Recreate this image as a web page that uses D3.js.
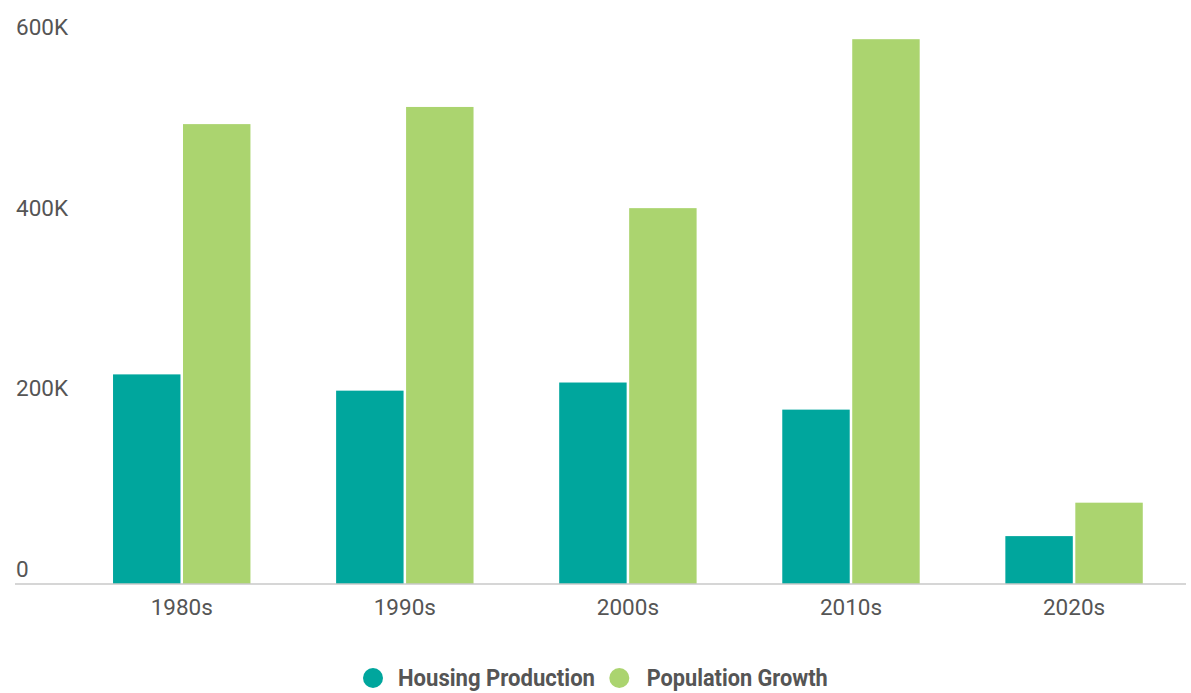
<!DOCTYPE html>
<html>
<head>
<meta charset="utf-8">
<script src="https://cdn.jsdelivr.net/npm/d3@7"></script>
<style>
  html, body { margin: 0; padding: 0; background: #fff; }
  svg { display: block; }
  text { font-family: Roboto, "Noto Sans", sans-serif; }
</style>
</head>
<body>
<svg id="chart" width="1191" height="693"></svg>
<script>
const categories = ["1980s", "1990s", "2000s", "2010s", "2020s"];
const seriesNames = ["Housing Production", "Population Growth"];
const housingProduction = [232000, 214000, 223000, 193000, 53000];
const populationGrowth = [509000, 528000, 416000, 603000, 90000];
const yTicks = [0, 200000, 400000, 600000];
const yTickLabels = ["0", "200K", "400K", "600K"];
const colors = ["#00a69d", "#abd46f"];

const svg = d3.select("#chart");
const baseY = 584;

const x = d3.scaleBand().domain(categories).range([70.2, 1185.6])
  .paddingInner(0.384).paddingOuter(0.192);
const xSub = d3.scaleBand().domain(seriesNames).range([0, x.bandwidth()]).paddingInner(0.036);
const y = d3.scaleLinear().domain([0, 600000]).range([baseY, baseY - 542.1]);

const data = categories.map((c, i) => ({
  cat: c,
  values: [
    { name: seriesNames[0], value: housingProduction[i] },
    { name: seriesNames[1], value: populationGrowth[i] }
  ]
}));
const color = d3.scaleOrdinal().domain(seriesNames).range(colors);

// y-axis labels (no gridlines)
const yAxis = d3.axisLeft(y).tickValues(yTicks).tickSize(0)
  .tickFormat((d, i) => yTickLabels[i]);
const gy = svg.append("g").call(yAxis);
gy.select(".domain").remove();
gy.selectAll("text")
  .attr("x", 16).attr("dy", null).attr("y", -7.5)
  .attr("text-anchor", "start")
  .style("font-size", "22.5px").style("fill", "#555")
  .style("font-family", "Roboto, sans-serif");

// bars
const groups = svg.append("g").selectAll("g").data(data).join("g")
  .attr("transform", d => `translate(${x(d.cat)},0)`);
groups.selectAll("rect").data(d => d.values).join("rect")
  .attr("x", d => xSub(d.name))
  .attr("width", xSub.bandwidth())
  .attr("y", d => y(d.value))
  .attr("height", d => y(0) - y(d.value))
  .attr("fill", d => color(d.name));

// baseline
svg.append("line")
  .attr("x1", 15).attr("x2", 1186)
  .attr("y1", baseY).attr("y2", baseY)
  .attr("stroke", "#c8c8c8").attr("stroke-width", 1.5);

// x axis labels
const xAxis = d3.axisBottom(x).tickSize(0);
const gx = svg.append("g").attr("transform", `translate(0,${baseY})`).call(xAxis);
gx.select(".domain").remove();
gx.selectAll("text")
  .attr("y", 30.5).attr("dy", null)
  .style("font-size", "22.5px").style("fill", "#555")
  .style("font-family", "Roboto, sans-serif");

// legend
const legendItems = [
  { name: seriesNames[0], cx: 373, tx: 398, len: 197 },
  { name: seriesNames[1], cx: 619.3, tx: 646.7, len: 181 }
];
const lg = svg.append("g");
const li = lg.selectAll("g").data(legendItems).join("g");
li.append("circle").attr("cx", d => d.cx).attr("cy", 678).attr("r", 10)
  .attr("fill", d => color(d.name));
li.append("text").attr("x", d => d.tx).attr("y", 686)
  .attr("textLength", d => d.len).attr("lengthAdjust", "spacingAndGlyphs")
  .text(d => d.name)
  .style("font-size", "24px").style("font-weight", "bold").style("fill", "#555");
</script>
</body>
</html>
